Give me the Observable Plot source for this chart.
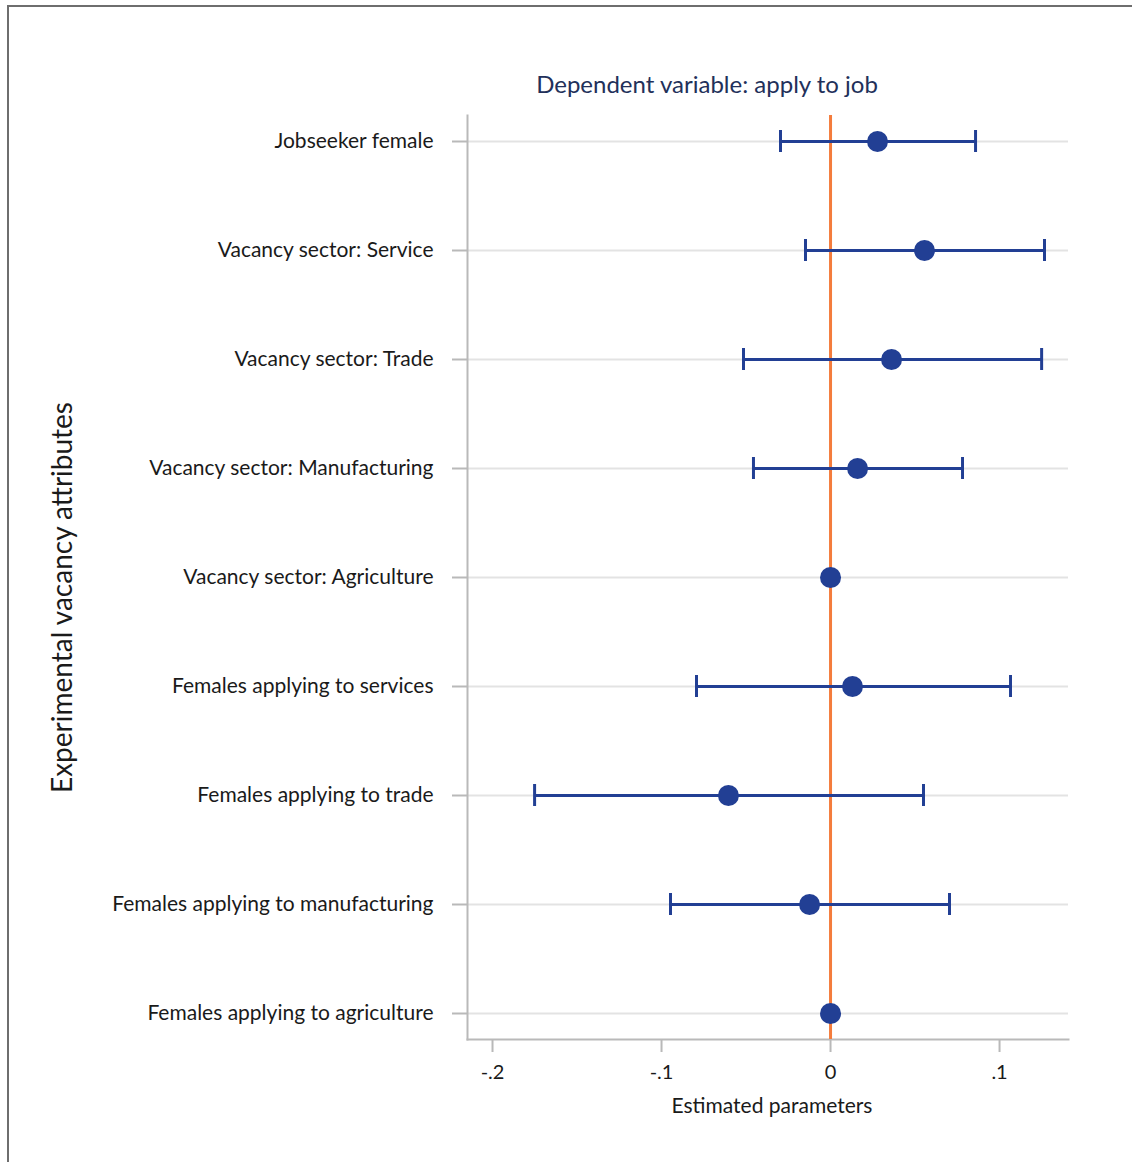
<!DOCTYPE html>
<html>
<head>
<meta charset="utf-8">
<script src="https://cdn.jsdelivr.net/npm/d3@7"></script>
<script src="https://cdn.jsdelivr.net/npm/@observablehq/plot@0.6"></script>
<style>
  html, body { margin: 0; padding: 0; background: #fff; }
  #wrap { position: relative; width: 1132px; height: 1162px; overflow: hidden; }
  #border { position: absolute; left: 7px; top: 5px; right: -10px; bottom: -10px;
            border-left: 2px solid #6e6e6e; border-top: 2px solid #6e6e6e; pointer-events: none; }
  svg { display: block; }
</style>
</head>
<body>
<div id="wrap"><div id="border"></div></div>
<script>
// ---- data ----
const attributes = [
  "Jobseeker female",
  "Vacancy sector: Service",
  "Vacancy sector: Trade",
  "Vacancy sector: Manufacturing",
  "Vacancy sector: Agriculture",
  "Females applying to services",
  "Females applying to trade",
  "Females applying to manufacturing",
  "Females applying to agriculture"
];
const estimates = [0.0278, 0.0556, 0.0361, 0.0160, 0, 0.0130, -0.0604, -0.0124, 0];
const ciLow  = [-0.0296, -0.0148, -0.0515, -0.0456, null, -0.0793, -0.1751, -0.0947, null];
const ciHigh = [0.0858, 0.1266, 0.1249, 0.0781, null, 0.1065, 0.0550, 0.0704, null];
const xTicks = [-0.2, -0.1, 0, 0.1];
const xTickLabels = ["-.2", "-.1", "0", ".1"];
const xDomain = [-0.2148, 0.1408];
const titleText = "Dependent variable: apply to job";
const xLabel = "Estimated parameters";
const yLabel = "Experimental vacancy attributes";

const rows = attributes.map((a, i) => ({attr: a, est: estimates[i], lo: ciLow[i], hi: ciHigh[i]}));
const ciRows = rows.filter(d => d.lo != null);

const BLUE = "#223f94";
const ORANGE = "#f47c3c";
const AXIS = "#b9b9b9";
const FONT = "Lato, 'Open Sans', sans-serif";

const chart = Plot.plot({
  width: 1132,
  height: 1162,
  marginLeft: 467,
  marginRight: 64,
  marginTop: 115,
  marginBottom: 123,
  style: {fontFamily: FONT, background: "transparent"},
  x: {domain: xDomain, ticks: xTicks},
  y: {type: "band", domain: attributes, paddingInner: 0.8, paddingOuter: 0.12},
  marks: [
    Plot.gridY({stroke: "#e3e3e3", strokeOpacity: 1, strokeWidth: 2}),
    Plot.frame({anchor: "left", stroke: AXIS, strokeWidth: 2}),
    Plot.frame({anchor: "bottom", stroke: AXIS, strokeWidth: 2}),
    Plot.axisY({tickSize: 15, text: null, stroke: AXIS, strokeWidth: 2, label: null}),
    Plot.axisY({tickSize: 0, tickPadding: 34, fontSize: 21, fill: "#1a1a1a", label: null}),
    Plot.axisX({ticks: xTicks, tickSize: 13, text: null, stroke: AXIS, strokeWidth: 2, label: null}),
    Plot.axisX({ticks: xTicks, tickSize: 0, tickPadding: 25, fontSize: 20, fill: "#1a1a1a",
      tickFormat: d => xTickLabels[xTicks.indexOf(d)], label: null}),
    Plot.ruleX([0], {stroke: ORANGE, strokeWidth: 3}),
    Plot.ruleY(ciRows, {y: "attr", x1: "lo", x2: "hi", stroke: BLUE, strokeWidth: 3}),
    Plot.tickX(ciRows, {x: "lo", y: "attr", stroke: BLUE, strokeWidth: 3}),
    Plot.tickX(ciRows, {x: "hi", y: "attr", stroke: BLUE, strokeWidth: 3}),
    Plot.dot(rows, {x: "est", y: "attr", r: 10.5, fill: BLUE, stroke: "none"}),
    Plot.text([titleText], {frameAnchor: "top", dx: -61, dy: -30, fontSize: 24, fill: "#22305a", lineAnchor: "middle"}),
    Plot.text([xLabel], {frameAnchor: "bottom", dx: 4, dy: 67, fontSize: 21, fill: "#1a1a1a", lineAnchor: "middle"}),
    Plot.text([yLabel], {frameAnchor: "left", dx: -404, dy: 20, rotate: -90, textAnchor: "middle", fontSize: 28, fill: "#1a1a1a", lineAnchor: "middle"})
  ]
});
document.getElementById("wrap").prepend(chart);
</script>
</body>
</html>
